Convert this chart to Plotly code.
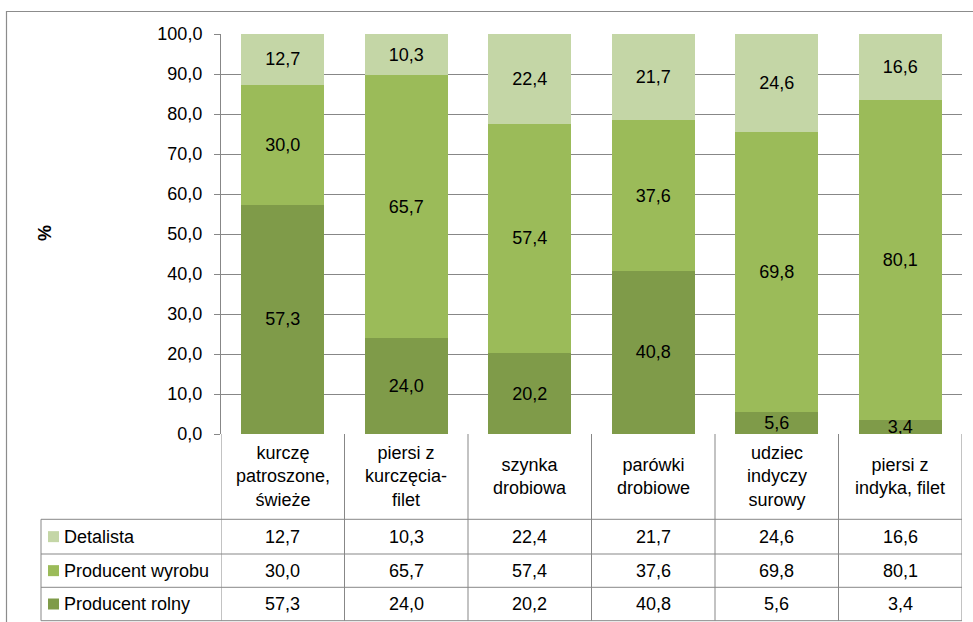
import plotly.graph_objects as go

categories = ["kurczę<br>patroszone,<br>świeże", "piersi z<br>kurczęcia-<br>filet", "szynka<br>drobiowa",
              "parówki<br>drobiowe", "udziec<br>indyczy<br>surowy", "piersi z<br>indyka, filet"]
series_names = ["Producent rolny", "Producent wyrobu", "Detalista"]
producent_rolny = [57.3, 24.0, 20.2, 40.8, 5.6, 3.4]
producent_wyrobu = [30.0, 65.7, 57.4, 37.6, 69.8, 80.1]
detalista = [12.7, 10.3, 22.4, 21.7, 24.6, 16.6]
colors = ["#7F9B49", "#9BBB59", "#C4D6A6"]
y_ticks = [0, 10, 20, 30, 40, 50, 60, 70, 80, 90, 100]

W, H = 973, 622
PL, PR, PT, PB = 221, 962, 34, 434
FONT = "Liberation Sans, Arial, sans-serif"
FS = 18
LINE = "#878787"

def px_x(X):
    return (X - PL) / (PR - PL)

def px_y(Y):
    return (PB - Y) / (PB - PT)

xs = list(range(len(categories)))
series_vals = [producent_rolny, producent_wyrobu, detalista]

fig = go.Figure()
for name, vals, col in zip(series_names, series_vals, colors):
    fig.add_trace(go.Bar(
        x=xs, y=vals, name=name, marker=dict(color=col, line=dict(width=0)),
        width=0.67, texttemplate="%{y:.1f}", textposition="inside",
        insidetextanchor="middle", textfont=dict(family=FONT, size=FS, color="#000000"),
        showlegend=False, hoverinfo="skip"))

shapes = []
def hline(Y, X0, X1):
    shapes.append(dict(type="line", xref="paper", yref="paper", x0=px_x(X0), x1=px_x(X1),
                       y0=px_y(Y), y1=px_y(Y), line=dict(color=LINE, width=1)))
def vline(X, Y0, Y1, xref="paper"):
    x = px_x(X) if xref == "paper" else X
    shapes.append(dict(type="line", xref=xref, yref="paper", x0=x, x1=x,
                       y0=px_y(Y0), y1=px_y(Y1), line=dict(color=LINE, width=1)))

# table geometry
row_lines = [519.3, 554, 587.3, 620.7]
TL = 41
for Y in row_lines:
    hline(Y, TL, PR)
vline(TL, row_lines[0], row_lines[3])
for b in [i - 0.5 for i in range(len(categories) + 1)]:
    vline(b, PB, row_lines[3], xref="x")

# outer chart border
shapes.append(dict(type="rect", xref="paper", yref="paper", x0=px_x(6.5), x1=px_x(990),
                   y0=px_y(640), y1=px_y(11.5), line=dict(color="#8c8c8c", width=1.2),
                   fillcolor="rgba(0,0,0,0)", layer="above"))

annotations = []
header_c = (PB + row_lines[0]) / 2
for i, c in enumerate(categories):
    annotations.append(dict(x=i, xref="x", y=px_y(header_c), yref="paper", text=c,
                            showarrow=False, align="center", xanchor="center", yanchor="middle",
                            font=dict(family=FONT, size=FS, color="#000")))

table_rows = [("Detalista", detalista, colors[2]),
              ("Producent wyrobu", producent_wyrobu, colors[1]),
              ("Producent rolny", producent_rolny, colors[0])]
for r, (name, vals, col) in enumerate(table_rows):
    yc = (row_lines[r] + row_lines[r + 1]) / 2
    shapes.append(dict(type="rect", xref="paper", yref="paper", x0=px_x(48), x1=px_x(59),
                       y0=px_y(yc + 5.5), y1=px_y(yc - 5.5), fillcolor=col, line=dict(width=0)))
    annotations.append(dict(x=px_x(62), xref="paper", y=px_y(yc), yref="paper", text=name,
                            showarrow=False, xanchor="left", yanchor="middle",
                            font=dict(family=FONT, size=FS, color="#000")))
    for i, v in enumerate(vals):
        annotations.append(dict(x=i, xref="x", y=px_y(yc), yref="paper",
                                text=f"{v:.1f}".replace(".", ","), showarrow=False,
                                xanchor="center", yanchor="middle",
                                font=dict(family=FONT, size=FS, color="#000")))

annotations.append(dict(x=px_x(45), xref="paper", y=px_y(233), yref="paper", text="<b>%</b>",
                        textangle=-90, showarrow=False, xanchor="center", yanchor="middle",
                        font=dict(family=FONT, size=FS, color="#000")))

fig.update_layout(
    width=W, height=H, barmode="stack", separators=", ",
    margin=dict(l=PL, r=W - PR, t=PT, b=H - PB, pad=0),
    paper_bgcolor="white", plot_bgcolor="white",
    font=dict(family=FONT, size=FS, color="#000"),
    uniformtext=dict(minsize=FS, mode="show"),
    xaxis=dict(range=[-0.5, len(categories) - 0.5], showticklabels=False, showgrid=False,
               zeroline=False, showline=False, ticks=""),
    yaxis=dict(range=[0, 100], tickvals=y_ticks, tickformat=".1f", showgrid=True,
               gridcolor=LINE, gridwidth=1, zeroline=False, showline=True, linecolor=LINE,
               linewidth=1, ticks="outside", ticklen=6, tickcolor=LINE, ticklabelstandoff=8,
               tickfont=dict(family=FONT, size=FS, color="#000")),
    shapes=shapes, annotations=annotations,
)
fig.write_html("out.html", config={"displayModeBar": False},
               post_script="document.body.style.margin='0px';document.body.style.overflow='hidden';")
